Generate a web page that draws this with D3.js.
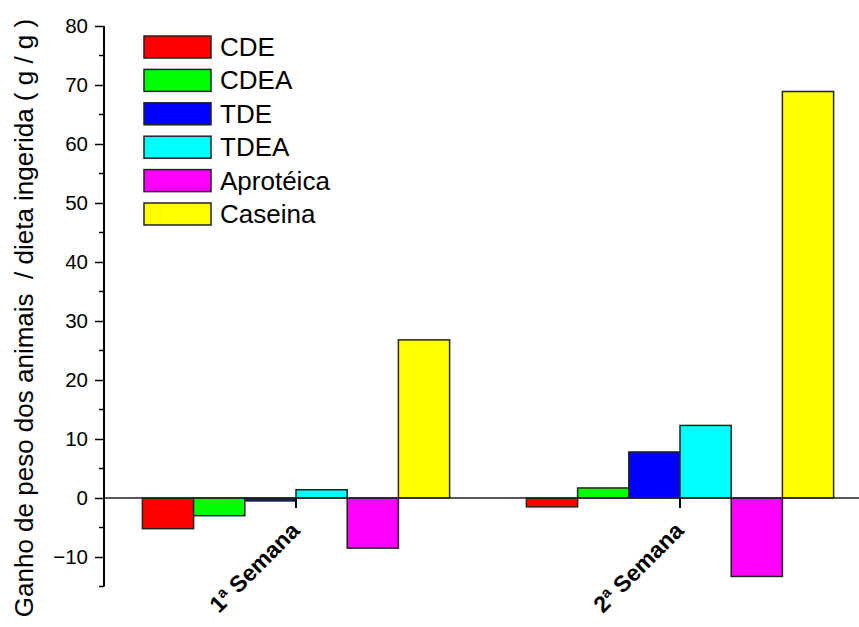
<!DOCTYPE html>
<html>
<head>
<meta charset="utf-8">
<script src="https://cdn.jsdelivr.net/npm/d3@7"></script>
<style>
html, body { margin: 0; padding: 0; background: #fff; }
svg text { font-family: "Liberation Sans", Arial, sans-serif; fill: #000; }
</style>
</head>
<body>
<svg id="chart" width="859" height="627"></svg>
<script>
const categories = ["1ª Semana", "2ª Semana"];
const seriesNames = ["CDE", "CDEA", "TDE", "TDEA", "Aprotéica", "Caseina"];
const seriesColors = ["#ff0000", "#00ff00", "#0000ff", "#00ffff", "#ff00ff", "#ffff00"];
const valuesCDE = [-5.2, -1.5];
const valuesCDEA = [-3.0, 1.7];
const valuesTDE = [-0.5, 7.8];
const valuesTDEA = [1.4, 12.3];
const valuesAproteica = [-8.5, -13.3];
const valuesCaseina = [26.8, 68.9];
const yTicks = [-10, 0, 10, 20, 30, 40, 50, 60, 70, 80];
const yLabel = "Ganho de peso dos animais  / dieta ingerida ( g / g )";

const seriesValues = [valuesCDE, valuesCDEA, valuesTDE, valuesTDEA, valuesAproteica, valuesCaseina];

const svg = d3.select("#chart");

const y = d3.scaleLinear().domain([-15, 80]).range([586.5, 26]);
const x = d3.scaleBand().domain(categories).range([104, 872]).paddingInner(0.2).paddingOuter(0.1);
const xs = d3.scaleBand().domain(seriesNames).range([0, x.bandwidth()]).padding(0);

const data = [];
categories.forEach((c, ci) => {
  seriesNames.forEach((s, si) => {
    data.push({cat: c, series: s, value: seriesValues[si][ci], color: seriesColors[si]});
  });
});

// bars
svg.append("g").selectAll("rect").data(data).join("rect")
  .attr("x", d => x(d.cat) + xs(d.series))
  .attr("y", d => y(Math.max(0, d.value)))
  .attr("width", xs.bandwidth())
  .attr("height", d => Math.abs(y(d.value) - y(0)))
  .attr("fill", d => d.color)
  .attr("stroke", "#222")
  .attr("stroke-width", 1.5);

// zero line / x axis
const xAxis = d3.axisBottom(x).tickSize(10).tickFormat("");
const gx = svg.append("g").attr("transform", `translate(0,${y(0)})`).call(xAxis);
gx.select(".domain").attr("d", `M104,0H859`).attr("stroke", "#222").attr("stroke-width", 1.6);
gx.selectAll(".tick line").attr("stroke", "#000").attr("stroke-width", 2);

// x labels
svg.append("g").selectAll("text").data(categories).join("text")
  .attr("transform", (d, i) => `translate(${x(d) + x.bandwidth() / 2 + 5},${y(0) + 34}) rotate(-45)`)
  .attr("text-anchor", "end")
  .style("font-size", "23px")
  .style("font-weight", "bold")
  .text(d => d);

// y axis
const yAxis = d3.axisLeft(y).tickValues(yTicks).tickSize(9).tickPadding(7).tickFormat(d3.format("d"));
const gy = svg.append("g").attr("transform", "translate(104,0)").call(yAxis);
gy.select(".domain").attr("d", `M0,${y(80)}V${y(-15)}`).attr("stroke", "#000").attr("stroke-width", 2);
gy.selectAll(".tick line").attr("stroke", "#000").attr("stroke-width", 1.5);
gy.selectAll(".tick text").style("font-size", "20.5px").attr("font-family", null);
// minor ticks
const minor = d3.range(-15, 80, 10);
gy.selectAll(".minor").data(minor).join("line").attr("class", "minor")
  .attr("x1", -5).attr("x2", 0).attr("y1", d => y(d)).attr("y2", d => y(d))
  .attr("stroke", "#000").attr("stroke-width", 1.5);

// y label
svg.append("text")
  .attr("transform", `translate(33,318) rotate(-90)`)
  .attr("text-anchor", "middle")
  .style("font-size", "26px")
  .style("white-space", "pre")
  .text(yLabel);

// legend
const lg = svg.append("g");
seriesNames.forEach((s, i) => {
  const cy = 47 + i * 33.4;
  lg.append("rect").attr("x", 144).attr("y", cy - 11).attr("width", 67).attr("height", 22)
    .attr("fill", seriesColors[i]).attr("stroke", "#222").attr("stroke-width", 1.5);
  lg.append("text").attr("x", 220).attr("y", cy + 9).style("font-size", "26px").text(s);
});
</script>
</body>
</html>
